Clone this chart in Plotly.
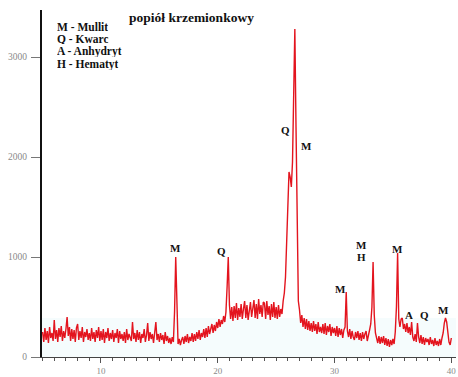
import plotly.graph_objects as go

# XRD pattern: intensity sampled every 0.1 deg 2theta from 5.0 to 40.0
intensity = [
    # 5.0
    250, 150, 290, 170, 260, 140, 300, 190, 240, 160,
    # 6.0
    370, 180, 270, 150, 290, 200, 310, 160, 260, 190,
    # 7.0
    280, 400, 210, 300, 160, 280, 180, 270, 150, 290,
    # 8.0
    330, 170, 260, 190, 300, 150, 250, 200, 280, 170,
    # 9.0
    240, 160, 290, 180, 250, 150, 270, 190, 300, 160,
    # 10.0
    260, 170, 280, 140, 250, 190, 290, 160, 240, 180,
    # 11.0
    270, 150, 240, 190, 280, 140, 260, 180, 230, 160,
    # 12.0
    250, 140, 280, 170, 230, 190, 160, 350, 180, 240,
    # 13.0
    150, 270, 170, 250, 140, 230, 190, 280, 150, 220,
    # 14.0
    340, 160, 250, 180, 230, 140, 220, 350, 170, 230,
    # 15.0
    150, 240, 170, 220, 130, 250, 160, 210, 140, 190,
    # 16.0
    130, 200, 150, 450, 1000, 380, 130, 180, 120, 170,
    # 17.0
    200, 130, 210, 150, 230, 140, 200, 160, 240, 150,
    # 18.0
    230, 160, 250, 180, 270, 170, 240, 200, 280, 190,
    # 19.0
    290, 200, 310, 230, 280, 330, 240, 320, 260, 350,
    # 20.0
    290, 380, 300, 370, 330, 410, 350, 450, 700, 1000,
    # 21.0
    520, 380, 500, 360, 510, 390, 540, 370, 490, 400,
    # 22.0
    530, 380, 480, 560, 390, 520, 370, 500, 550, 400,
    # 23.0
    510, 570, 390, 530, 380, 580, 430, 520, 400, 550,
    # 24.0
    540, 380, 560, 420, 510, 370, 530, 400, 550, 390,
    # 25.0
    500, 380, 520, 400, 480, 430, 560, 640, 800, 1150,
    # 26.0
    1600, 1850, 1800, 1700, 1950, 2700, 3280, 2300, 1100, 560,
    # 27.0
    470, 340, 420, 300, 390, 280, 380, 270, 360, 260,
    # 28.0
    340, 250, 360, 260, 330, 230, 350, 250, 300, 240,
    # 29.0
    330, 230, 340, 220, 310, 250, 330, 210, 300, 240,
    # 30.0
    290, 210, 310, 200, 290, 220, 280, 190, 270, 300,
    # 31.0
    650, 260, 200, 280, 180, 260, 200, 170, 250, 190,
    # 32.0
    260, 170, 240, 160, 250, 180, 230, 260, 160, 240,
    # 33.0
    270, 330, 500, 950, 420, 240, 180, 140, 210, 130,
    # 34.0
    200, 140, 210, 120, 190, 110, 180, 100, 170, 120,
    # 35.0
    180, 130, 250, 500, 1040, 380, 300, 380, 390, 280,
    # 36.0
    330, 250, 340, 240, 300, 220, 350, 200, 160, 230,
    # 37.0
    150, 340, 200, 140, 220, 130, 200, 120, 190, 150,
    # 38.0
    180, 120, 200, 130, 170, 110, 190, 120, 160, 110,
    # 39.0
    180, 120, 190, 240, 340, 390, 350, 250, 150, 120,
    # 40.0
    190,
]
two_theta = [round(5.0 + 0.1 * i, 1) for i in range(len(intensity))]

title_text = "popiół krzemionkowy"
legend_lines = ["M - Mullit", "Q - Kwarc", "A - Anhydryt", "H - Hematyt"]

peak_labels = ["M", "Q", "Q", "M", "M", "M", "H", "M", "A", "Q", "M"]
peak_label_x = [16.42, 20.36, 25.76, 27.64, 30.47, 32.35, 32.35, 35.35, 36.38, 37.66, 39.37]
peak_label_y = [1090, 1060, 2270, 2110, 680, 1120, 1000, 1080, 420, 420, 470]

x_ticks = [10, 20, 30, 40]
y_ticks = [0, 1000, 2000, 3000]

fig = go.Figure()
fig.add_trace(go.Scatter(
    x=two_theta, y=intensity, mode="lines",
    line=dict(color="#e3141e", width=1.4),
    hoverinfo="skip", showlegend=False,
))

serif = "Liberation Serif, Times New Roman, serif"

annotations = []
annotations.append(dict(
    x=17.79, y=3400, xref="x", yref="y", text="<b>" + title_text + "</b>",
    showarrow=False, font=dict(family=serif, size=13.5, color="#111"),
))
leg_y = [3310, 3183, 3057, 2930]
for t, yy in zip(legend_lines, leg_y):
    annotations.append(dict(
        x=6.06, y=yy, xref="x", yref="y", text="<b>" + t + "</b>",
        xanchor="left", showarrow=False, height=11,
        font=dict(family=serif, size=11.5, color="#111"),
    ))
for t, xx, yy in zip(peak_labels, peak_label_x, peak_label_y):
    annotations.append(dict(
        x=xx, y=yy, xref="x", yref="y", text="<b>" + t + "</b>",
        showarrow=False, height=12, font=dict(family=serif, size=11, color="#111"),
    ))

fig.update_layout(
    width=458, height=377,
    margin=dict(l=42, r=2, t=10, b=20),
    paper_bgcolor="white", plot_bgcolor="white",
    annotations=annotations,
    shapes=[dict(type="rect", xref="x", yref="y", x0=4.95, x1=40.4, y0=0, y1=390,
                 fillcolor="rgba(205,238,245,0.2)", line=dict(width=0), layer="below")],
    xaxis=dict(
        range=[4.95, 40.4], tickmode="array", tickvals=x_ticks, automargin=False,
        ticks="outside", ticklen=5, tickcolor="#555", tickwidth=1,
        minor=dict(dtick=1, tick0=0, ticks="outside", ticklen=3, tickcolor="#555"),
        showline=True, linecolor="#444", linewidth=1.2,
        showgrid=False, zeroline=False,
        tickfont=dict(family=serif, size=9, color="#8a8a8a"),
    ),
    yaxis=dict(
        range=[0, 3470], tickmode="array", tickvals=y_ticks, automargin=False,
        ticks="outside", ticklen=9, tickcolor="#777", tickwidth=1,
        ticklabelstandoff=2,
        showline=True, linecolor="#111", linewidth=2,
        showgrid=False, zeroline=False,
        tickfont=dict(family=serif, size=9.5, color="#8a8a8a"),
    ),
)

fig.write_html(
    "out.html",
    config={"displayModeBar": False},
    post_script="document.body.style.margin='0';document.body.style.overflow='hidden';",
)
